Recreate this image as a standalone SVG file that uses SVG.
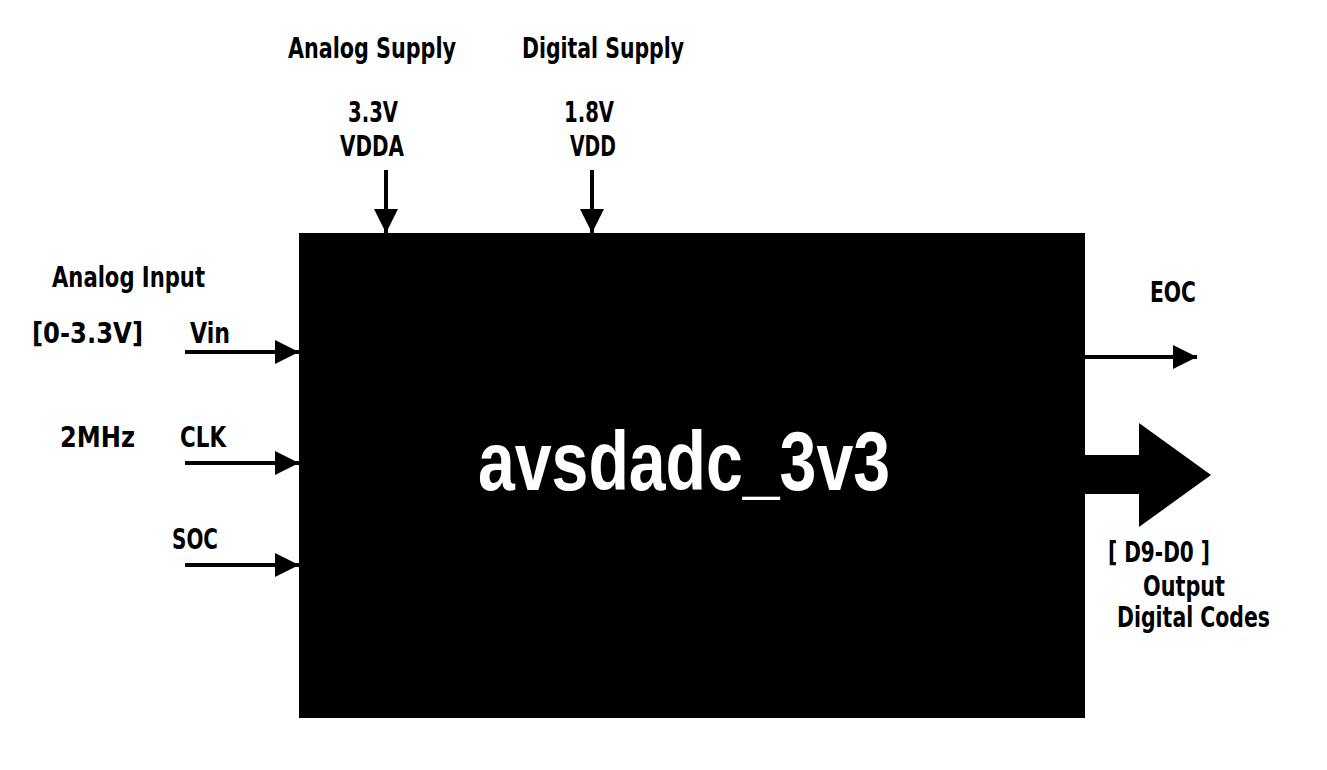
<svg xmlns="http://www.w3.org/2000/svg" width="1327" height="770" viewBox="0 0 1327 770">
<defs>
<style>
.t{font-family:"DejaVu Sans Condensed","Liberation Sans Narrow","Liberation Sans",sans-serif;font-weight:bold;font-size:29px;fill:#000}
.c{text-anchor:middle}
.title{font-family:"Liberation Sans","DejaVu Sans",sans-serif;font-weight:bold;font-size:84px;fill:#fff;text-anchor:middle}
.w{stroke:#000;stroke-width:4;fill:none}
</style>
<marker id="ah" viewBox="0 0 24 24" refX="24" refY="12" markerWidth="24" markerHeight="24" markerUnits="userSpaceOnUse" orient="auto">
<path d="M0,0 L24,12 L0,24 Z" fill="#000"/>
</marker>
</defs>
<rect width="1327" height="770" fill="#fff"/>
<g id="adc">
<rect x="299" y="233" width="786" height="485" fill="#000"/>
<text class="title" x="684" y="490" textLength="412" lengthAdjust="spacingAndGlyphs">avsdadc_3v3</text>
</g>
<g id="connectors">
<line class="w" x1="386" y1="170" x2="386" y2="233" marker-end="url(#ah)"/>
<line class="w" x1="592" y1="170" x2="592" y2="233" marker-end="url(#ah)"/>
<line class="w" x1="185" y1="352" x2="299" y2="352" marker-end="url(#ah)"/>
<line class="w" x1="185" y1="463" x2="299" y2="463" marker-end="url(#ah)"/>
<line class="w" x1="185" y1="565" x2="299" y2="565" marker-end="url(#ah)"/>
<line class="w" x1="1085" y1="357" x2="1197" y2="357" marker-end="url(#ah)"/>
<path d="M1085,455 L1139,455 L1139,423 L1211,475 L1139,527 L1139,494 L1085,494 Z" fill="#000"/>
</g>
<g id="labels">
<text class="t c" x="372" y="58" textLength="168" lengthAdjust="spacingAndGlyphs">Analog Supply</text>
<text class="t c" x="603" y="58" textLength="162" lengthAdjust="spacingAndGlyphs">Digital Supply</text>
<text class="t c" x="373" y="122" textLength="50" lengthAdjust="spacingAndGlyphs">3.3V</text>
<text class="t c" x="372" y="156" textLength="64" lengthAdjust="spacingAndGlyphs">VDDA</text>
<text class="t c" x="589" y="122" textLength="50" lengthAdjust="spacingAndGlyphs">1.8V</text>
<text class="t c" x="593" y="156" textLength="46" lengthAdjust="spacingAndGlyphs">VDD</text>
<text class="t" x="52" y="287" textLength="153" lengthAdjust="spacingAndGlyphs">Analog Input</text>
<text class="t" x="32" y="343" textLength="111" lengthAdjust="spacingAndGlyphs">[0-3.3V]</text>
<text class="t" x="190" y="343" textLength="40" lengthAdjust="spacingAndGlyphs">Vin</text>
<text class="t" x="60" y="447" textLength="75" lengthAdjust="spacingAndGlyphs">2MHz</text>
<text class="t" x="180" y="447" textLength="46" lengthAdjust="spacingAndGlyphs">CLK</text>
<text class="t" x="172" y="549" textLength="46" lengthAdjust="spacingAndGlyphs">SOC</text>
<text class="t" x="1150" y="302" textLength="46" lengthAdjust="spacingAndGlyphs">EOC</text>
<text class="t" x="1108" y="562" textLength="102" lengthAdjust="spacingAndGlyphs">[ D9-D0 ]</text>
<text class="t" x="1143" y="596" textLength="82" lengthAdjust="spacingAndGlyphs">Output</text>
<text class="t" x="1117" y="627" textLength="153" lengthAdjust="spacingAndGlyphs">Digital Codes</text>
</g>
</svg>
